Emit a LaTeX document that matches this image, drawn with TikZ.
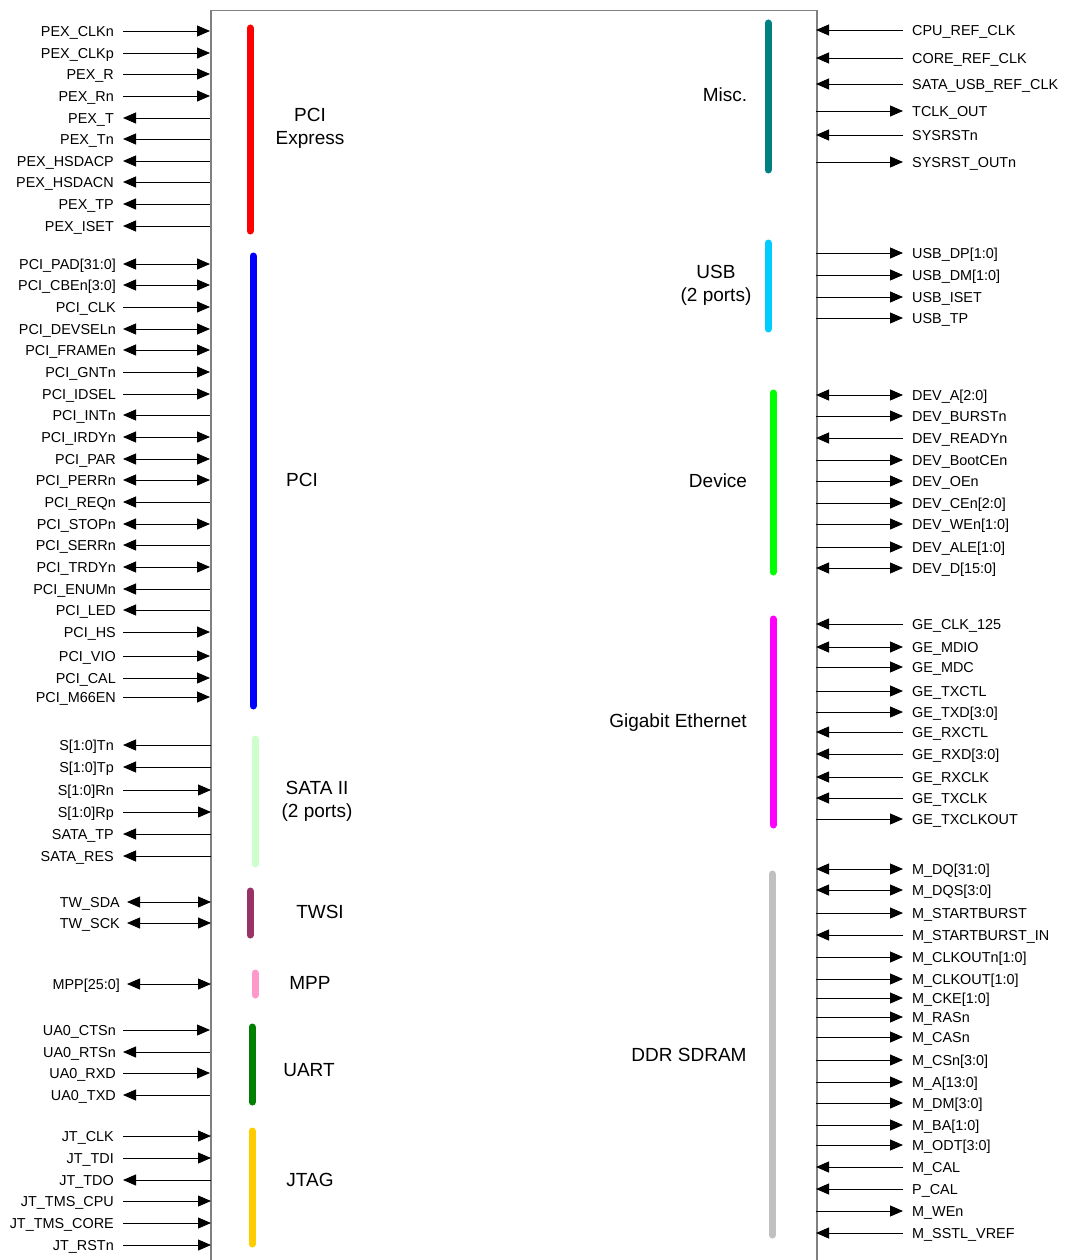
\documentclass[tikz,border=0pt]{standalone}
\usepackage{fontspec}
\setmainfont{Liberation Sans}
\usetikzlibrary{arrows.meta}
\definecolor{boxgray}{HTML}{808080}
\definecolor{cPEX}{HTML}{FF0000}
\definecolor{cPCI}{HTML}{0000FF}
\definecolor{cSATA}{HTML}{CCFFCC}
\definecolor{cTWSI}{HTML}{993366}
\definecolor{cMPP}{HTML}{FF99CC}
\definecolor{cUART}{HTML}{008000}
\definecolor{cJTAG}{HTML}{FFCC00}
\definecolor{cMISC}{HTML}{008080}
\definecolor{cUSB}{HTML}{00CCFF}
\definecolor{cDEV}{HTML}{00FF00}
\definecolor{cGE}{HTML}{FF00FF}
\definecolor{cDDR}{HTML}{C0C0C0}
\begin{document}
\begin{tikzpicture}[x=1pt,y=-1pt,
  pinlabel/.style={font=\fontsize{14.4}{16}\selectfont, inner xsep=7pt, inner ysep=0pt, text height=10.4pt, text depth=0pt},
  wire/.style={line width=0.9pt, black},
  dirI/.style={-{Triangle[length=13pt,width=11pt]}},
  dirO/.style={{Triangle[length=13pt,width=11pt]}-},
  dirB/.style={{Triangle[length=13pt,width=11pt]}-{Triangle[length=13pt,width=11pt]}},
  bar/.style={line width=7pt, line cap=round},
  blk/.style={font=\fontsize{19}{23}\selectfont, inner sep=0pt, text height=13.7pt, text depth=0pt},
  blk2/.style={font=\fontsize{19}{23}\selectfont, inner sep=0pt, align=center}]
\useasboundingbox (0,0) rectangle (1066,1260);
% chip outline
\node[draw=boxgray, line width=1.5pt, minimum width=606pt, minimum height=1280pt, anchor=north west, inner sep=0pt] (chip) at (210,10) {};

% ---------- left side pins ----------
\foreach \t/\y/\d [count=\i] in {
  PEX\_CLKn/31/I, PEX\_CLKp/53/I, PEX\_R/74/I, PEX\_Rn/96/I,
  PEX\_T/118/O, PEX\_Tn/139/O, PEX\_HSDACP/161/O, PEX\_HSDACN/182/O,
  PEX\_TP/204/O, PEX\_ISET/226/O}
{
  \node[pinlabel, anchor=east, inner xsep=9pt] (P\i) at (123,\y) {\t};
  \coordinate (Pe\i) at (210,\y);
  \draw[wire, dir\d] (P\i.east) -- (Pe\i);
}
\foreach \t/\y/\d [count=\i] in {
  PCI\_PAD[31:0]/264/B, PCI\_CBEn[3:0]/285/B, PCI\_CLK/307/I,
  PCI\_DEVSELn/329/B, PCI\_FRAMEn/350/B, PCI\_GNTn/372/I, PCI\_IDSEL/394/I,
  PCI\_INTn/415/O, PCI\_IRDYn/437/B, PCI\_PAR/459/B, PCI\_PERRn/480/B,
  PCI\_REQn/502/O, PCI\_STOPn/524/B, PCI\_SERRn/545/O, PCI\_TRDYn/567/B,
  PCI\_ENUMn/589/O, PCI\_LED/610/O, PCI\_HS/632/I, PCI\_VIO/656/I,
  PCI\_CAL/678/I, PCI\_M66EN/697/I,
  UA0\_CTSn/1030/I, UA0\_RTSn/1052/O, UA0\_RXD/1073/I, UA0\_TXD/1095/O}
{
  \node[pinlabel, anchor=east] (L\i) at (123,\y) {\t};
  \coordinate (Le\i) at (210,\y);
  \draw[wire, dir\d] (L\i.east) -- (Le\i);
}
\foreach \t/\y/\d [count=\i] in {
  S[1:0]Tn/745/O, S[1:0]Tp/767/O, S[1:0]Rn/790/I, S[1:0]Rp/812/I,
  SATA\_TP/834/O, SATA\_RES/856/O,
  JT\_CLK/1136/I, JT\_TDI/1158/I, JT\_TDO/1180/O, JT\_TMS\_CPU/1201/I,
  JT\_TMS\_CORE/1223/I, JT\_RSTn/1245/I}
{
  \node[pinlabel, anchor=east, inner xsep=9pt] (S\i) at (123,\y) {\t};
  \coordinate (Se\i) at (211,\y);
  \draw[wire, dir\d] (S\i.east) -- (Se\i);
}
\foreach \t/\y/\d [count=\i] in {
  TW\_SDA/902/B, TW\_SCK/923/B, MPP[25:0]/984/B}
{
  \node[pinlabel, anchor=east] (T\i) at (127,\y) {\t};
  \coordinate (Te\i) at (211,\y);
  \draw[wire, dir\d] (T\i.east) -- (Te\i);
}

% ---------- right side pins ----------
\foreach \t/\y/\d [count=\i] in {
  CPU\_REF\_CLK/30/I, CORE\_REF\_CLK/58/I, SATA\_USB\_REF\_CLK/84/I,
  TCLK\_OUT/111/O, SYSRSTn/135/I, SYSRST\_OUTn/162/O,
  USB\_DP[1:0]/253/O, USB\_DM[1:0]/275/O, USB\_ISET/297/O, USB\_TP/318/O,
  DEV\_A[2:0]/395/B, DEV\_BURSTn/416/O, DEV\_READYn/438/I, DEV\_BootCEn/460/O,
  DEV\_OEn/481/O, DEV\_CEn[2:0]/503/O, DEV\_WEn[1:0]/524/O, DEV\_ALE[1:0]/547/O,
  DEV\_D[15:0]/568/B,
  GE\_CLK\_125/624/I, GE\_MDIO/647/B, GE\_MDC/667/O, GE\_TXCTL/691/O,
  GE\_TXD[3:0]/712/O, GE\_RXCTL/732/I, GE\_RXD[3:0]/754/I, GE\_RXCLK/777/I,
  GE\_TXCLK/798/I, GE\_TXCLKOUT/819/O,
  M\_DQ[31:0]/869/B, M\_DQS[3:0]/890/B, M\_STARTBURST/913/O,
  M\_STARTBURST\_IN/935/I, M\_CLKOUTn[1:0]/957/O, M\_CLKOUT[1:0]/979/O,
  M\_CKE[1:0]/998/O, M\_RASn/1017/O, M\_CASn/1037/O, M\_CSn[3:0]/1060/O,
  M\_A[13:0]/1082/O, M\_DM[3:0]/1103/O, M\_BA[1:0]/1125/O, M\_ODT[3:0]/1145/O,
  M\_CAL/1167/I, P\_CAL/1189/I, M\_WEn/1211/O, M\_SSTL\_VREF/1233/I}
{
  \node[pinlabel, anchor=west, inner xsep=9pt] (R\i) at (903,\y) {\t};
  \coordinate (Re\i) at (816,\y);
  \draw[wire, dir\d] (R\i.west) -- (Re\i);
}

% ---------- coloured bars ----------
\draw[bar, cPEX]  (250,28) -- (250,231);
\draw[bar, cPCI]  (253,256) -- (253,706);
\draw[bar, cSATA] (255,739) -- (255,864);
\draw[bar, cTWSI] (250,891) -- (250,935);
\draw[bar, cMPP]  (255,973) -- (255,995);
\draw[bar, cUART] (252,1027) -- (252,1102);
\draw[bar, cJTAG] (252,1131) -- (252,1244);
\draw[bar, cMISC] (768,23) -- (768,170);
\draw[bar, cUSB]  (768,243) -- (768,329);
\draw[bar, cDEV]  (773,393) -- (773,572);
\draw[bar, cGE]   (773,619) -- (773,825);
\draw[bar, cDDR]  (772,874) -- (772,1235);

% ---------- block labels ----------
\node[blk2] (bPEX)  at (310,128) {PCI\\Express};
\node[blk]  (bPCI)  at (302,480) {PCI};
\node[blk2] (bSATA) at (317,801) {SATA II\\(2 ports)};
\node[blk]  (bTWSI) at (320,912) {TWSI};
\node[blk]  (bMPP)  at (310,983) {MPP};
\node[blk]  (bUART) at (309,1070) {UART};
\node[blk]  (bJTAG) at (310,1180) {JTAG};
\node[blk]  (bMISC) at (725,95) {Misc.};
\node[blk2] (bUSB)  at (716,285) {USB\\(2 ports)};
\node[blk]  (bDEV)  at (718,481) {Device};
\node[blk]  (bGE)   at (678,721) {Gigabit Ethernet};
\node[blk]  (bDDR)  at (689,1055) {DDR SDRAM};
\end{tikzpicture}
\end{document}
